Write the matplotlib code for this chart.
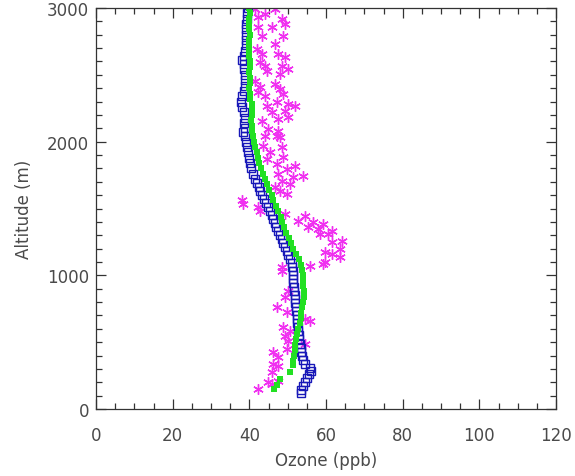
import numpy as np
import matplotlib
matplotlib.use('Agg')
import matplotlib.pyplot as plt
from matplotlib.ticker import MultipleLocator

# ozone profiles (ppb) against altitude (m)
blue_alt = [3000, 2960, 2920, 2880, 2840, 2800, 2760, 2720, 2680, 2640, 2610, 2580,
            2540, 2500, 2460, 2420, 2380, 2340, 2300, 2260, 2220, 2180, 2140, 2100,
            2070, 2040, 2000, 1960, 1920, 1880, 1840, 1800, 1760, 1720, 1690, 1660,
            1630, 1600, 1570, 1540, 1510, 1480, 1450, 1420, 1390, 1360, 1330, 1300,
            1270, 1240, 1210, 1180, 1150, 1120, 1090, 1060, 1030, 1000, 970, 940,
            910, 880, 850, 820, 790, 760, 730, 700, 670, 640, 610, 580, 550, 520,
            490, 460, 430, 400, 370, 340, 305, 285, 260, 230, 205, 170, 145, 120]
blue_o3 = [39.6, 39.4, 39.3, 39.2, 39.1, 39.2, 39.0, 39.1, 38.9, 38.5, 38.2, 38.6,
           38.7, 38.8, 38.9, 38.8, 38.6, 38.1, 37.9, 38.1, 38.6, 38.9, 38.7, 38.9,
           38.4, 38.9, 39.0, 39.3, 39.6, 39.9, 40.1, 40.4, 40.9, 41.5, 42.0, 42.4,
           42.9, 43.4, 43.9, 44.3, 44.8, 45.3, 45.8, 46.2, 46.6, 47.0, 47.6, 48.1,
           48.5, 48.9, 49.3, 49.8, 50.2, 50.6, 51.0, 51.2, 51.3, 51.4, 51.5, 51.5,
           51.6, 51.7, 51.8, 51.9, 52.0, 52.2, 52.3, 52.4, 52.5, 52.5, 52.6, 52.8,
           52.9, 53.0, 53.2, 53.4, 53.6, 53.8, 54.0, 54.4, 55.8, 56.0, 55.5, 55.0,
           54.6, 54.0, 53.6, 53.4]

green_alt = [3000, 2960, 2920, 2880, 2840, 2800, 2760, 2720, 2680, 2640, 2600, 2560,
             2520, 2480, 2440, 2400, 2360, 2320, 2280, 2240, 2200, 2160, 2120, 2080,
             2040, 2000, 1960, 1920, 1880, 1840, 1800, 1760, 1720, 1680, 1640, 1600,
             1560, 1520, 1480, 1440, 1400, 1360, 1320, 1280, 1240, 1200, 1160, 1120,
             1080, 1040, 1000, 960, 920, 880, 840, 800, 760, 720, 680, 640, 600, 560,
             520, 480, 440, 400, 360, 330, 280, 225, 180, 150]
green_o3 = [40.0, 40.1, 40.0, 39.9, 40.0, 40.1, 39.9, 39.8, 39.9, 40.0, 40.2, 40.1,
            40.0, 40.1, 40.2, 40.0, 40.1, 40.3, 40.6, 40.8, 40.6, 40.5, 40.7, 40.8,
            41.0, 41.3, 41.6, 41.9, 42.2, 42.5, 43.0, 43.5, 44.0, 44.5, 45.2, 45.8,
            46.3, 46.9, 47.5, 48.2, 48.6, 49.0, 49.6, 50.3, 50.9, 51.5, 52.3, 52.9,
            53.4, 53.8, 53.9, 54.0, 54.1, 54.2, 54.2, 54.0, 53.8, 53.6, 53.4, 53.1,
            52.8, 52.5, 52.2, 52.0, 51.8, 51.6, 51.4, 51.5, 50.6, 48.0, 47.2, 46.4]

mag_alt = [2990, 2995, 2955, 2932, 2917, 2857, 2857, 2880, 2790, 2790, 2730, 2693,
           2655, 2655, 2633, 2596, 2566, 2566, 2543, 2528, 2506, 2453, 2431, 2409,
           2394, 2371, 2341, 2356, 2296, 2281, 2266, 2266, 2222, 2229, 2154, 2169,
           2184, 2094, 2079, 2042, 2042, 2035, 1967, 1960, 1922, 1885, 1870, 1833,
           1818, 1795, 1758, 1743, 1735, 1705, 1683, 1661, 1631, 1608, 1563, 1533,
           1511, 1481, 1459, 1444, 1406, 1399, 1384, 1361, 1346, 1331, 1309, 1309,
           1257, 1249, 1197, 1174, 1159, 1137, 1100, 1070, 1062, 1032, 1085, 883,
           838, 763, 726, 658, 673, 613, 583, 546, 509, 486, 449, 426, 389, 337,
           322, 277, 202, 187, 209, 150]
mag_o3 = [41.5, 46.7, 44.1, 42.3, 48.5, 45.9, 42.3, 49.3, 43.3, 48.8, 46.7, 42.0,
          43.3, 47.5, 49.3, 42.8, 44.1, 48.5, 50.1, 44.6, 48.0, 41.5, 46.7, 42.8,
          48.0, 42.3, 44.1, 48.8, 47.2, 50.1, 51.9, 44.6, 45.9, 49.3, 43.3, 47.5,
          50.1, 44.9, 47.5, 44.1, 47.2, 48.0, 43.6, 48.5, 45.4, 48.8, 44.6, 47.2,
          51.9, 49.8, 47.5, 54.0, 51.4, 48.5, 50.6, 46.7, 48.0, 49.8, 38.1, 38.4,
          42.3, 42.8, 49.3, 54.5, 52.7, 56.6, 59.2, 55.3, 57.9, 61.6, 60.5, 58.4,
          64.2, 61.6, 63.7, 59.7, 61.6, 63.7, 59.7, 55.8, 48.5, 48.5, 59.2, 50.1,
          49.3, 47.2, 49.8, 55.8, 54.5, 48.8, 50.6, 49.3, 50.1, 54.5, 49.8, 46.2,
          47.5, 46.2, 47.5, 45.9, 44.9, 45.9, 47.5, 42.3]

txt = '#4a4a4a'

fig = plt.figure(figsize=(5.75, 4.77), dpi=100)
ax = fig.add_axes([96 / 575, 1 - 410 / 477, 460 / 575, 401 / 477])

ax.plot(mag_o3, mag_alt, ls='none', marker=(6, 2, 0), ms=7.5, mew=1.0,
        color='#f030f0')
ax.plot(blue_o3, blue_alt, ls='none', marker='s', ms=5.5, mew=1.0,
        mfc='none', mec='#1818b8')
ax.plot(green_o3, green_alt, ls='none', marker='s', ms=4.3, mew=0,
        color='#22e022')

ax.set_xlim(0, 120)
ax.set_ylim(0, 3000)
ax.xaxis.set_major_locator(MultipleLocator(20))
ax.xaxis.set_minor_locator(MultipleLocator(5))
ax.yaxis.set_major_locator(MultipleLocator(1000))
ax.yaxis.set_minor_locator(MultipleLocator(100))
ax.tick_params(which='both', direction='in', top=True, right=True,
               colors='#333333', labelcolor=txt, labelsize=12, width=0.9)
ax.tick_params(which='major', length=7)
ax.tick_params(which='minor', length=4)
ax.tick_params(axis='x', which='major', pad=12)
ax.tick_params(axis='y', which='major', pad=5)
for s in ax.spines.values():
    s.set_color('#333333')
    s.set_linewidth(0.9)

ax.set_xlabel('Ozone (ppb)', fontsize=12, color=txt, labelpad=5)
ax.set_ylabel('Altitude (m)', fontsize=12, color=txt, labelpad=10)

plt.savefig('out.png', dpi=100)
